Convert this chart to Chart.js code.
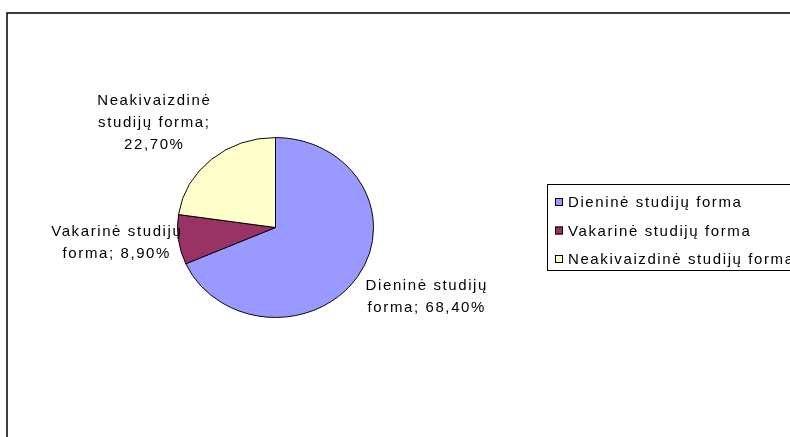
<!DOCTYPE html>
<html>
<head>
<meta charset="utf-8">
<script src="https://cdn.jsdelivr.net/npm/chart.js@4"></script>
<style>
  body { margin: 0; background: #fff; }
  #wrap { width: 790px; height: 437px; position: relative; }
</style>
</head>
<body>
<div id="wrap"><canvas id="pie" width="790" height="437"></canvas></div>
<script>
// ---- data ----
const categories = ["Dieninė studijų forma", "Vakarinė studijų forma", "Neakivaizdinė studijų forma"];
const shares = [68.4, 8.9, 22.7];
const sliceColors = ["#9999FF", "#993366", "#FFFFCC"];

const FONT = "15px 'Liberation Sans', Arial, sans-serif";
const SPACING = "1.6px";
const Y_SQUASH = 179 / 195; // pie is a bit flatter than wide

const fmt = (v) => v.toFixed(2).replace(".", ",") + "%";

function wrapText(ctx, text, maxW) {
  const words = text.split(" ");
  const lines = [];
  let cur = "";
  words.forEach((w) => {
    const test = cur ? cur + " " + w : w;
    if (cur && ctx.measureText(test).width > maxW) {
      lines.push(cur);
      cur = w;
    } else {
      cur = test;
    }
  });
  if (cur) lines.push(cur);
  return lines;
}

// outer frame
const framePlugin = {
  id: "frame",
  beforeDraw(chart) {
    const ctx = chart.ctx;
    ctx.save();
    ctx.strokeStyle = "#000";
    ctx.lineWidth = 1.5;
    ctx.strokeRect(7, 13, 820, 500);
    ctx.restore();
  },
};

// squash arcs vertically
const squashPlugin = {
  id: "squash",
  beforeDatasetsDraw(chart) {
    const arc = chart.getDatasetMeta(0).data[0];
    const ctx = chart.ctx;
    ctx.save();
    ctx.translate(arc.x, arc.y);
    ctx.scale(1, Y_SQUASH);
    ctx.translate(-arc.x, -arc.y);
  },
  afterDatasetsDraw(chart) {
    chart.ctx.restore();
  },
};

// data labels outside the slices
const labelPlugin = {
  id: "sliceLabels",
  afterDatasetsDraw(chart) {
    const ctx = chart.ctx;
    const meta = chart.getDatasetMeta(0);
    ctx.save();
    ctx.font = FONT;
    ctx.letterSpacing = SPACING;
    ctx.fillStyle = "#000";
    ctx.textBaseline = "middle";
    ctx.textAlign = "center";
    const lineH = 22;
    meta.data.forEach((arc, i) => {
      const mid = (arc.startAngle + arc.endAngle) / 2;
      const c = Math.cos(mid), s = Math.sin(mid);
      const ax = arc.x + c * arc.outerRadius;
      const ay = arc.y + s * arc.outerRadius * Y_SQUASH;
      const text = categories[i] + "; " + fmt(shares[i]);
      const lines = wrapText(ctx, text, 140);
      const w = Math.max(...lines.map((l) => ctx.measureText(l).width));
      const h = lines.length * lineH;
      let left = c >= 0 ? ax + 8 : ax - w;
      let top;
      if (Math.abs(s) < 0.3) {
        top = ay - h / 2 + 3;
        left += 4;
      } else if (s > 0) top = ay - 2;
      else top = ay - h - 4;
      lines.forEach((l, k) => {
        ctx.fillText(l, left + w / 2, top + lineH * k + lineH / 2);
      });
    });
    ctx.restore();
  },
};

// boxed legend on the right
const legendPlugin = {
  id: "boxLegend",
  afterDraw(chart) {
    const ctx = chart.ctx;
    const x0 = 547, y0 = 184, rowH = 28.5;
    ctx.save();
    ctx.strokeStyle = "#000";
    ctx.lineWidth = 1;
    ctx.strokeRect(x0 + 0.5, y0 + 0.5, 300, 86);
    ctx.font = FONT;
    ctx.letterSpacing = SPACING;
    ctx.textBaseline = "middle";
    ctx.textAlign = "left";
    chart.data.labels.forEach((lab, i) => {
      const cy = y0 + 18 + i * rowH;
      ctx.fillStyle = chart.data.datasets[0].backgroundColor[i];
      ctx.fillRect(555, cy - 4, 8, 8);
      ctx.strokeStyle = "#000";
      ctx.strokeRect(555.5, cy - 3.5, 7, 7);
      ctx.fillStyle = "#000";
      ctx.fillText(lab, 568, cy + 1);
    });
    ctx.restore();
  },
};

new Chart(document.getElementById("pie"), {
  type: "pie",
  data: {
    labels: categories,
    datasets: [
      {
        data: shares,
        backgroundColor: sliceColors,
        borderColor: "#000",
        borderWidth: 1,
      },
    ],
  },
  options: {
    responsive: false,
    animation: false,
    events: [],
    layout: { padding: { left: 177, right: 416, top: 129, bottom: 111 } },
    plugins: {
      legend: { display: false },
      tooltip: { enabled: false },
    },
  },
  plugins: [framePlugin, squashPlugin, labelPlugin, legendPlugin],
});
</script>
</body>
</html>
